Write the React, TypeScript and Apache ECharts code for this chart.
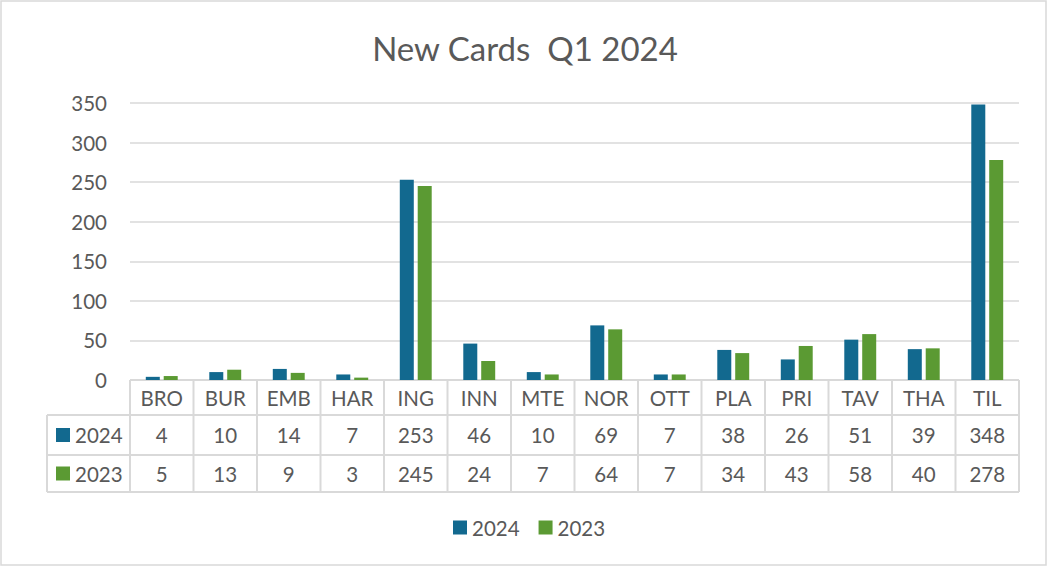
import React, { useEffect, useRef } from "react";
import * as echarts from "echarts";

const categories = ["BRO", "BUR", "EMB", "HAR", "ING", "INN", "MTE", "NOR", "OTT", "PLA", "PRI", "TAV", "THA", "TIL"];
const seriesNames = ["2024", "2023"];
const values2024 = [4, 10, 14, 7, 253, 46, 10, 69, 7, 38, 26, 51, 39, 348];
const values2023 = [5, 13, 9, 3, 245, 24, 7, 64, 7, 34, 43, 58, 40, 278];
const titleText = "New Cards  Q1 2024";

const COLORS = ["#12698F", "#5B9A33"];
const TEXT = "#595959";
const LINE = "#D9D9D9";
const FONT = "Lato, 'Noto Sans', sans-serif";

export default function App() {
  const ref = useRef<HTMLDivElement>(null);
  useEffect(() => {
    if (!ref.current) return;
    const chart = echarts.init(ref.current, undefined, { renderer: "svg" });
    const W = 1048, H = 567;
    const gl = 130, gr = 1019, gt = 103, gb = 380;
    const tableLeft = 47;
    const rowLines = [gb, 415, 455, 492];
    const rowCenters = [397.5, 435, 473.5];
    const n = categories.length;
    const cw = (gr - gl) / n;
    const seriesData = [values2024, values2023];

    const graphic: any[] = [];
    graphic.push({ type: "rect", shape: { x: 1, y: 1, width: W - 3, height: H - 3 }, style: { fill: "none", stroke: LINE, lineWidth: 1.5 }, silent: true });
    graphic.push({ type: "line", shape: { x1: gl, y1: rowLines[0], x2: gr, y2: rowLines[0] }, style: { stroke: LINE, lineWidth: 2 } });
    for (let i = 1; i < rowLines.length; i++) {
      graphic.push({ type: "line", shape: { x1: tableLeft, y1: rowLines[i], x2: gr, y2: rowLines[i] }, style: { stroke: LINE, lineWidth: 2 } });
    }
    graphic.push({ type: "line", shape: { x1: tableLeft, y1: rowLines[1], x2: tableLeft, y2: rowLines[3] }, style: { stroke: LINE, lineWidth: 2 } });
    for (let i = 0; i <= n; i++) {
      const x = gl + i * cw;
      graphic.push({ type: "line", shape: { x1: x, y1: rowLines[0], x2: x, y2: rowLines[3] }, style: { stroke: LINE, lineWidth: 2 } });
    }
    categories.forEach((c, i) => {
      const cx = gl + (i + 0.5) * cw;
      graphic.push({ type: "text", style: { text: c, x: cx, y: rowCenters[0], align: "center", verticalAlign: "middle", fill: TEXT, font: `20.5px ${FONT}` } });
      seriesData.forEach((arr, s) => {
        graphic.push({ type: "text", style: { text: String(arr[i]), x: cx, y: rowCenters[s + 1], align: "center", verticalAlign: "middle", fill: TEXT, font: `20.5px ${FONT}` } });
      });
    });
    seriesNames.forEach((name, s) => {
      const cy = rowCenters[s + 1];
      graphic.push({ type: "rect", shape: { x: 56, y: cy - 7, width: 14, height: 14 }, style: { fill: COLORS[s] } });
      graphic.push({ type: "text", style: { text: name, x: 75, y: cy, align: "left", verticalAlign: "middle", fill: TEXT, font: `20.5px ${FONT}` } });
    });

    chart.setOption({
      animation: false,
      backgroundColor: "#ffffff",
      title: {
        text: titleText,
        left: 520,
        textAlign: "center",
        top: 26,
        textStyle: { color: TEXT, fontSize: 33, fontWeight: "normal", fontFamily: FONT },
      },
      legend: {
        data: seriesNames,
        bottom: 24,
        left: 448,
        icon: "rect",
        itemWidth: 14,
        itemHeight: 14,
        itemGap: 19,
        textStyle: { color: TEXT, fontSize: 20.5, fontFamily: FONT },
      },
      grid: { left: gl, right: W - gr, top: gt, bottom: H - gb, containLabel: false },
      xAxis: {
        type: "category",
        data: categories,
        axisLine: { show: false },
        axisTick: { show: false },
        axisLabel: { show: false },
      },
      yAxis: {
        type: "value",
        min: 0,
        max: 350,
        interval: 50,
        axisLine: { show: false },
        axisTick: { show: false },
        axisLabel: { color: TEXT, fontSize: 20.5, fontFamily: FONT, margin: 23 },
        splitLine: { lineStyle: { color: LINE, width: 1.5 } },
      },
      series: seriesNames.map((name, s) => ({
        name,
        type: "bar",
        data: seriesData[s],
        barWidth: 14,
        barGap: "28%",
        itemStyle: { color: COLORS[s] },
      })),
      graphic,
    });
    return () => chart.dispose();
  }, []);
  return <div ref={ref} style={{ position: "absolute", left: 0, top: 0, width: 1048, height: 567 }} />;
}
